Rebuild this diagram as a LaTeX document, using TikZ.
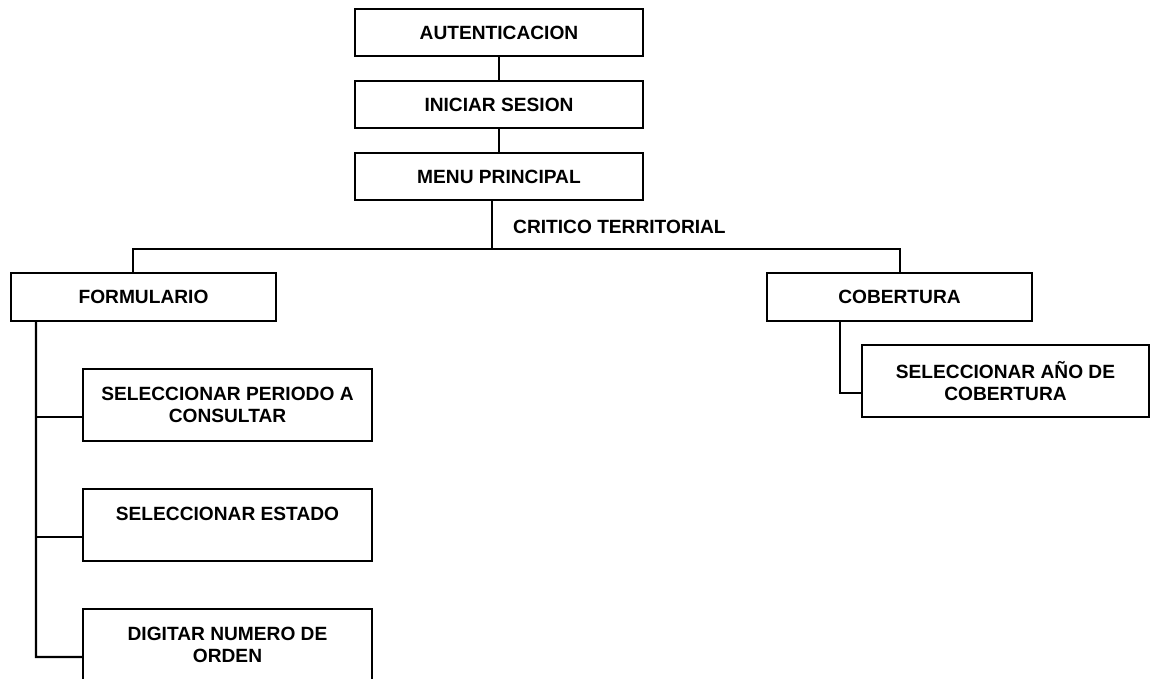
\documentclass[tikz,border=0pt]{standalone}
\usepackage{fontspec}
\setmainfont{Liberation Sans}
\usepackage{tikz}
\usetikzlibrary{arrows}

\tikzset{
  caja/.style={draw=black, very thick, fill=white, align=center, inner sep=0pt,
    font=\fontsize{10.9}{12.5}\selectfont\bfseries},
  cajachica/.style={caja, minimum width=5.76cm, minimum height=0.94cm},
  cajamedia/.style={caja, minimum width=5.3cm, minimum height=0.96cm},
  cajagrande/.style={caja, minimum width=5.78cm, minimum height=1.44cm}
}

\begin{document}
\begin{tikzpicture}
            \useasboundingbox (0,0) rectangle (23,13.58);
            \node[cajachica] (aut) at (9.98,12.93) {AUTENTICACION};
            \node[cajachica] (ini) at (9.98,11.49) {INICIAR SESION};
            \node[cajachica] (menu) at (9.98,10.05) {MENU PRINCIPAL};
            \node[cajamedia] (form) at (2.87,7.64) {FORMULARIO};
            \node[cajamedia] (cob) at (17.99,7.64) {COBERTURA};
            \node[cajagrande] (per) at (4.55,5.48) {SELECCIONAR PERIODO A\\CONSULTAR};
            \node[cajagrande] (est) at (4.55,3.08) {SELECCIONAR ESTADO\\\mbox{}};
            \node[cajagrande] (dig) at (4.55,0.68) {DIGITAR NUMERO DE\\ORDEN};
            \node[cajagrande, minimum width=5.74cm] (ano) at (20.11,5.96) {SELECCIONAR A\~NO DE\\COBERTURA};
            \node[anchor=west, font=\fontsize{10.9}{12.5}\selectfont\bfseries] (crit) at (10.14,9.04) {CRITICO TERRITORIAL};
            \coordinate (split) at (9.84,8.6);
            \coordinate (izq) at (2.66,8.6);
            \coordinate (der) at (18,8.6);
            \coordinate (tronco) at (0.72,0.44);
            \coordinate (rama) at (16.8,5.72);
            \draw [black, very thick] (aut) -- (ini);
            \draw [black, very thick] (ini) -- (menu);
            \draw [black, very thick] (menu.south -| split) -- (split);
            \draw [black, very thick] (izq |- form.north) -- (izq) -- (der) -- (der |- cob.north);
            \draw [black, very thick] (form.south -| tronco) -- (tronco) -- ([yshift=-0.24cm]dig.west);
            \foreach \b in {per, est}
            \draw [black, very thick] ([yshift=-0.24cm]\b.west) -- ([yshift=-0.24cm]\b.west -| tronco);
            \draw [black, very thick] (cob.south -| rama) -- (rama) -- ([yshift=-0.24cm]ano.west);
        \end{tikzpicture}
\end{document}
